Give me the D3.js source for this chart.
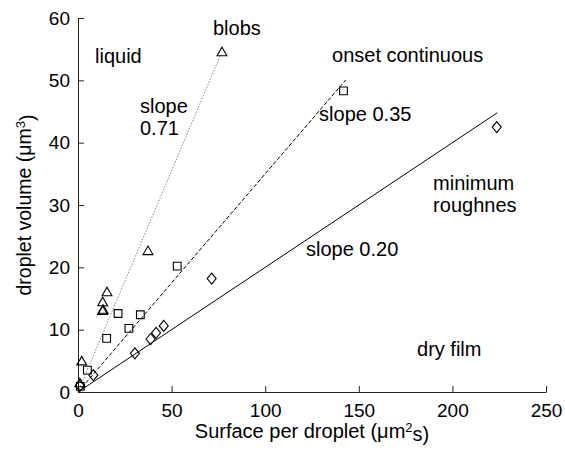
<html>
  <head>
    <style>
      body { margin: 0; background: #fff; }
      text { font-family: "Liberation Sans", Arial, sans-serif; fill: #000; }
    </style>
  </head>
  <body>
    <svg width="565" height="456"></svg>
    <script src="https://d3js.org/d3.v7.min.js"></script>
    <script>
      // blobs (triangles), onset continuous (squares), minimum roughness (diamonds)
      var blobsX = [1.0, 2.0, 13.2, 13.4, 13.2, 15.5, 37.4, 76.9],
          blobsY = [1.3, 4.8, 12.9, 13.1, 14.3, 15.9, 22.5, 54.4];
      var onsetX = [1.2, 5.0, 15.3, 21.4, 27.2, 33.3, 53.0, 141.8],
          onsetY = [0.9, 3.5, 8.6, 12.6, 10.2, 12.4, 20.2, 48.3];
      var roughX = [1.0, 8.2, 30.4, 38.8, 41.7, 45.8, 71.4, 223.7],
          roughY = [1.0, 2.7, 6.2, 8.5, 9.5, 10.6, 18.2, 42.5];
      var fits = [
        { slope: 0.71, xmax: 76,  dash: "1.5,1.5", color: "#888" },
        { slope: 0.35, xmax: 143, dash: "4,2",     color: "#000" },
        { slope: 0.20, xmax: 224, dash: null,      color: "#000" }
      ];
      var xTicks = [0, 50, 100, 150, 200, 250],
          yTicks = [0, 10, 20, 30, 40, 50, 60];
      var notes = [
        { x: 9.1,   y: 52.8, lines: ["liquid"] },
        { x: 72.1,  y: 57.3, lines: ["blobs"] },
        { x: 33.1,  y: 44.8, lines: ["slope", "0.71"] },
        { x: 135.7, y: 52.9, lines: ["onset continuous"] },
        { x: 128.8, y: 43.5, lines: ["slope 0.35"] },
        { x: 189.7, y: 32.4, lines: ["minimum", "roughnes"] },
        { x: 121.8, y: 21.8, lines: ["slope 0.20"] },
        { x: 181.1, y: 5.7,  lines: ["dry film"] }
      ];

      var svg = d3.select("svg"),
          margin = { top: 18, right: 19, bottom: 64, left: 78 },
          width = +svg.attr("width") - margin.left - margin.right,
          height = +svg.attr("height") - margin.top - margin.bottom;

      var x = d3.scaleLinear().domain([0, 250]).range([0, width]),
          y = d3.scaleLinear().domain([0, 60]).range([height, 0]);

      var g = svg.append("g")
          .attr("transform", "translate(" + margin.left + "," + margin.top + ")");

      // fit lines
      g.selectAll(".fit")
        .data(fits)
        .enter().append("line")
          .attr("x1", x(0)).attr("y1", y(0))
          .attr("x2", function(d) { return x(d.xmax); })
          .attr("y2", function(d) { return y(d.slope * d.xmax); })
          .attr("stroke", function(d) { return d.color; })
          .attr("stroke-width", 1)
          .attr("stroke-dasharray", function(d) { return d.dash; });

      // axes
      var xAxis = g.append("g")
          .attr("transform", "translate(0," + height + ")")
          .call(d3.axisBottom(x).tickValues(xTicks).tickSizeInner(-6).tickSizeOuter(0).tickPadding(12));
      var yAxis = g.append("g")
          .call(d3.axisLeft(y).tickValues(yTicks).tickSizeInner(-6).tickSizeOuter(0).tickPadding(8));
      [xAxis, yAxis].forEach(function(a) {
        a.selectAll("path, line").attr("stroke", "#222");
        a.selectAll("text").style("font-size", "19px").style("font-family", "Liberation Sans, Arial, sans-serif");
        a.attr("font-size", null);
      });
      xAxis.selectAll("text").attr("dy", "0.71em");

      // markers
      var tri = d3.symbol().type(d3.symbolTriangle).size(42),
          sq = d3.symbol().type(d3.symbolSquare).size(60);
      function diamond() { return "M0,-5.5L4.5,0L0,5.5L-4.5,0Z"; }

      function plot(xs, ys, pathFn) {
        g.append("g").selectAll("path")
          .data(d3.zip(xs, ys))
          .enter().append("path")
            .attr("transform", function(d) { return "translate(" + x(d[0]) + "," + y(d[1]) + ")"; })
            .attr("d", pathFn)
            .attr("fill", "none")
            .attr("stroke", "#000")
            .attr("stroke-width", 1.1);
      }
      plot(roughX, roughY, diamond);
      plot(onsetX, onsetY, sq);
      plot(blobsX, blobsY, tri);

      // annotations
      var note = g.selectAll(".note")
        .data(notes)
        .enter().append("text")
          .attr("x", function(d) { return x(d.x); })
          .attr("y", function(d) { return y(d.y); })
          .style("font-size", "20px");
      note.selectAll("tspan")
        .data(function(d) { return d.lines.map(function(l) { return { l: l, x: x(d.x) }; }); })
        .enter().append("tspan")
          .attr("x", function(d) { return d.x; })
          .attr("dy", function(d, i) { return i ? "1.12em" : 0; })
          .text(function(d) { return d.l; });

      // axis titles
      var xt = svg.append("text")
          .attr("x", margin.left + width / 2)
          .attr("y", 438)
          .attr("text-anchor", "middle")
          .style("font-size", "20px");
      xt.append("tspan").text("Surface per droplet (\u03bcm");
      xt.append("tspan").attr("dy", "-0.45em").style("font-size", "13px").text("2");
      xt.append("tspan").attr("dy", "0.45em").text("s)");

      var yt = svg.append("text")
          .attr("transform", "translate(31," + (margin.top + height / 2) + ") rotate(-90)")
          .attr("text-anchor", "middle")
          .style("font-size", "19.5px");
      yt.append("tspan").text("droplet volume (\u03bcm");
      yt.append("tspan").attr("dy", "-0.45em").style("font-size", "13px").text("3");
      yt.append("tspan").attr("dy", "0.45em").text(")");
    </script>
  </body>
</html>
